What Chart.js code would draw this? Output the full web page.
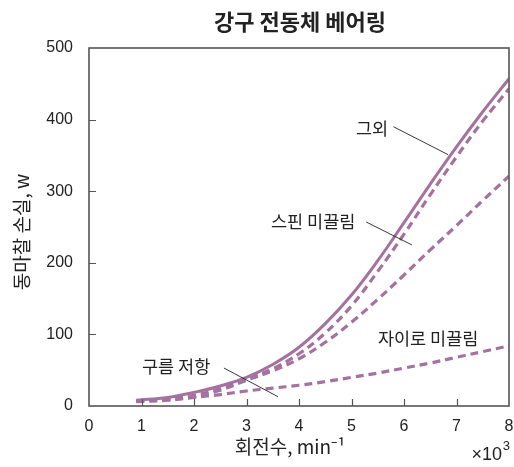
<!DOCTYPE html>
<html>
<head>
<meta charset="utf-8">
<script src="https://cdn.jsdelivr.net/npm/chart.js@4.4.1/dist/chart.umd.min.js"></script>
<style>
  html, body { margin: 0; padding: 0; background: #fff; }
  #wrap { width: 514px; height: 467px; position: relative; }
</style>
</head>
<body>
<div id="wrap"><canvas id="myChart"></canvas></div>
<script>
// 회전수 (x10^3 min^-1)
const speeds = [0.9, 1.5, 2, 2.5, 3, 3.5, 4, 4.5, 5, 5.5, 6, 6.5, 7, 7.5, 8];
// 동마찰 손실 (W)
const totalLoss   = [8, 12, 19, 28, 40, 58, 82, 115, 155, 203, 256, 310, 362, 411, 457];
const withoutEtc  = [7, 10, 15, 24, 37, 52, 73, 102, 140, 188, 240, 295, 348, 398, 443];
const spinSlip    = [7, 9, 13, 22, 36, 49, 66, 89, 117, 149, 183, 218, 252, 287, 321];
const rollingRes  = [6, 8, 12, 16, 21, 25, 29, 34, 40, 46, 53, 60, 68, 76, 84];
const xTicks = [0, 1, 2, 3, 4, 5, 6, 7, 8];
const yTicks = [0, 100, 200, 300, 400, 500];

// 곡선 이름표 (데이터 좌표)
const curveLabels = [
  { text: '그외',        x: 5.39, y: 388, line: [5.80, 390, 6.84, 351] },
  { text: '스핀 미끌림',  x: 4.27, y: 258, line: [5.28, 257, 6.15, 225] },
  { text: '자이로 미끌림', x: 6.46, y: 94, line: null },
  { text: '구름 저항',    x: 1.66, y: 55, line: [2.57, 53, 3.60, 13] }
];

const purple = '#a5719f';
const kr = '"Noto Sans CJK KR", "Noto Sans", sans-serif';

// 좁은 글꼴이 있으면 눈금 숫자에 쓴다
function hasFont(name) {
  const c = document.createElement('canvas').getContext('2d');
  c.font = '40px monospace';
  const w1 = c.measureText('0123456789').width;
  c.font = '40px "' + name + '", monospace';
  return c.measureText('0123456789').width !== w1;
}
const narrow = hasFont('Liberation Sans Narrow');
const latin = narrow ? '"Liberation Sans Narrow", sans-serif' : '"Liberation Sans", Arial, sans-serif';
const tickSize = narrow ? 18.5 : 16;

function pts(ys) {
  return speeds.map((x, i) => ({ x: x, y: ys[i] }));
}

const decor = {
  id: 'decor',
  afterDraw(chart) {
    const ctx = chart.ctx;
    const a = chart.chartArea;
    const xs = chart.scales.x, ys = chart.scales.y;
    ctx.save();
    // 테두리
    ctx.strokeStyle = '#555';
    ctx.lineWidth = 1.6;
    ctx.strokeRect(a.left, a.top, a.right - a.left, a.bottom - a.top);
    // 안쪽 눈금
    ctx.lineWidth = 1.2;
    ctx.beginPath();
    xTicks.slice(1, -1).forEach(v => {
      const px = Math.round(xs.getPixelForValue(v)) + 0.5;
      ctx.moveTo(px, a.bottom); ctx.lineTo(px, a.bottom - 7);
    });
    yTicks.slice(1, -1).forEach(v => {
      const py = Math.round(ys.getPixelForValue(v)) + 0.5;
      ctx.moveTo(a.left, py); ctx.lineTo(a.left + 7, py);
    });
    ctx.stroke();

    // 이름표와 지시선
    ctx.fillStyle = '#222';
    ctx.font = '17.5px ' + kr;
    ctx.textAlign = 'center';
    ctx.textBaseline = 'middle';
    ctx.strokeStyle = '#222';
    ctx.lineWidth = 0.9;
    curveLabels.forEach(l => {
      ctx.fillText(l.text, xs.getPixelForValue(l.x), ys.getPixelForValue(l.y));
      if (l.line) {
        ctx.beginPath();
        ctx.moveTo(xs.getPixelForValue(l.line[0]), ys.getPixelForValue(l.line[1]));
        ctx.lineTo(xs.getPixelForValue(l.line[2]), ys.getPixelForValue(l.line[3]));
        ctx.stroke();
      }
    });

    // 제목
    ctx.fillStyle = '#222';
    ctx.font = 'bold 22px ' + kr;
    ctx.fillText('강구 전동체 베어링', 300, 22);

    // x축 제목
    ctx.font = '19px ' + kr;
    ctx.fillText('회전수, min⁻¹', 290, 447);
    // 배율
    ctx.font = '18px ' + latin;
    ctx.textAlign = 'right';
    ctx.fillText('×10', 502, 455);
    ctx.font = '13px ' + latin;
    ctx.fillText('3', 510, 446);

    // y축 제목
    ctx.save();
    ctx.translate(22, 232);
    ctx.rotate(-Math.PI / 2);
    ctx.textAlign = 'center';
    ctx.font = '19px ' + kr;
    ctx.fillText('동마찰 손실, w', 0, 0);
    ctx.restore();

    ctx.restore();
  }
};

document.addEventListener('DOMContentLoaded', function() {
  const ctx = document.getElementById('myChart').getContext('2d');
  const common = {
    borderColor: purple,
    pointRadius: 0,
    fill: false,
    tension: 0.4
  };
  new Chart(ctx, {
    type: 'line',
    data: {
      datasets: [
        Object.assign({ label: '합계', data: pts(totalLoss), borderWidth: 3 }, common),
        Object.assign({ label: '그외 제외', data: pts(withoutEtc), borderWidth: 3.2, borderDash: [8, 5] }, common),
        Object.assign({ label: '스핀 미끌림', data: pts(spinSlip), borderWidth: 3.2, borderDash: [8, 5] }, common),
        Object.assign({ label: '구름 저항', data: pts(rollingRes), borderWidth: 3.2, borderDash: [8, 5] }, common)
      ]
    },
    options: {
      responsive: true,
      maintainAspectRatio: false,
      animation: false,
      layout: { padding: { top: 48, right: 5, left: 0, bottom: 0 } },
      plugins: { legend: { display: false }, tooltip: { enabled: false }, title: { display: false } },
      scales: {
        x: {
          type: 'linear',
          min: 0, max: 8,
          afterFit(s) { s.height = 61; s.paddingRight = 0; s.paddingLeft = 0; },
          afterBuildTicks(s) { s.ticks = xTicks.map(v => ({ value: v })); },
          grid: { display: false },
          border: { display: false },
          ticks: { color: '#222', padding: 3, font: { family: latin, size: tickSize }, maxRotation: 0 }
        },
        y: {
          min: 0, max: 500,
          afterFit(s) { s.width = 89; s.paddingTop = 0; s.paddingBottom = 0; },
          afterBuildTicks(s) { s.ticks = yTicks.map(v => ({ value: v })); },
          grid: { display: false },
          border: { display: false },
          ticks: { color: '#222', padding: 8, font: { family: latin, size: tickSize } }
        }
      }
    },
    plugins: [decor]
  });
});
</script>
</body>
</html>
